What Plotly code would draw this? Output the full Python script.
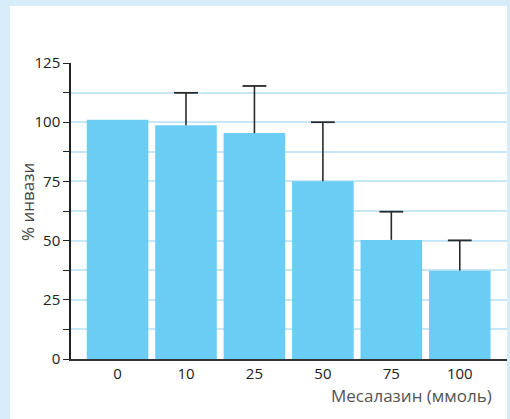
import plotly.graph_objects as go

categories = ["0", "10", "25", "50", "75", "100"]
invasion = [101, 98.7, 95.4, 75.1, 50.3, 37.3]
err_plus = [None, 13.7, 19.9, 24.9, 11.9, 12.8]
y_ticks = [0, 12.5, 25, 37.5, 50, 62.5, 75, 87.5, 100, 112.5, 125]
y_ticktext = ["0", "", "25", "", "50", "", "75", "", "100", "", "125"]

W, H = 510, 419
ml, mr, mt, mb = 71, 3, 63, 60
pw = W - ml - mr
ph = H - mt - mb

def px_x(p):
    return (p - ml) / pw

def px_y(p):
    return (H - mb - p) / ph

xs = list(range(len(categories)))
cap_x = [x for x, e in zip(xs, err_plus) if e is not None]
cap_y = [v + e for v, e in zip(invasion, err_plus) if e is not None]

fig = go.Figure()
fig.add_trace(go.Bar(
    x=xs,
    y=invasion,
    marker=dict(color="#6bcdf4", line=dict(width=0)),
    error_y=dict(type="data", symmetric=False, array=err_plus,
                 arrayminus=[0] * len(categories),
                 color="#2a2a2a", thickness=1.6, width=0),
    showlegend=False,
))
fig.add_trace(go.Scatter(
    x=cap_x, y=cap_y, mode="markers",
    marker=dict(symbol="line-ew", size=17,
                line=dict(color="#2a2a2a", width=1.8)),
    showlegend=False, hoverinfo="skip",
))

fig.update_layout(
    width=W, height=H,
    margin=dict(l=ml, r=mr, t=mt, b=mb),
    paper_bgcolor="#d6edf9",
    plot_bgcolor="white",
    bargap=0.1,
    font=dict(family="Open Sans", size=15, color="#222"),
    shapes=[dict(type="rect", xref="paper", yref="paper", layer="below",
                 x0=px_x(10), x1=px_x(507), y0=px_y(6), y1=px_y(419 + 5),
                 fillcolor="white", line=dict(width=0))],
    xaxis=dict(
        range=[-0.68, 5.69],
        tickvals=xs,
        ticktext=categories,
        showgrid=False, zeroline=False,
        showline=True, linecolor="#333", linewidth=1.5,
        ticks="", tickfont=dict(size=15, color="#222"),
    ),
    yaxis=dict(
        range=[0, 125],
        tickvals=y_ticks, ticktext=y_ticktext,
        showgrid=True, gridcolor="#c7e7f7", gridwidth=1.5,
        zeroline=False,
        showline=True, linecolor="#222", linewidth=1.5,
        ticks="outside", ticklen=6, tickwidth=1.3, tickcolor="#222",
        tickfont=dict(size=15, color="#222"),
    ),
    annotations=[
        dict(text="% инвази", xref="paper", yref="paper",
             x=px_x(27), y=px_y(202), textangle=-90, showarrow=False,
             xanchor="center", yanchor="middle",
             font=dict(size=17, color="#444")),
        dict(text="Месалазин (ммоль)", xref="paper", yref="paper",
             x=px_x(494), y=px_y(395), showarrow=False,
             xanchor="right", yanchor="middle",
             font=dict(size=17, color="#555")),
    ],
)

fig.write_html("out.html")
